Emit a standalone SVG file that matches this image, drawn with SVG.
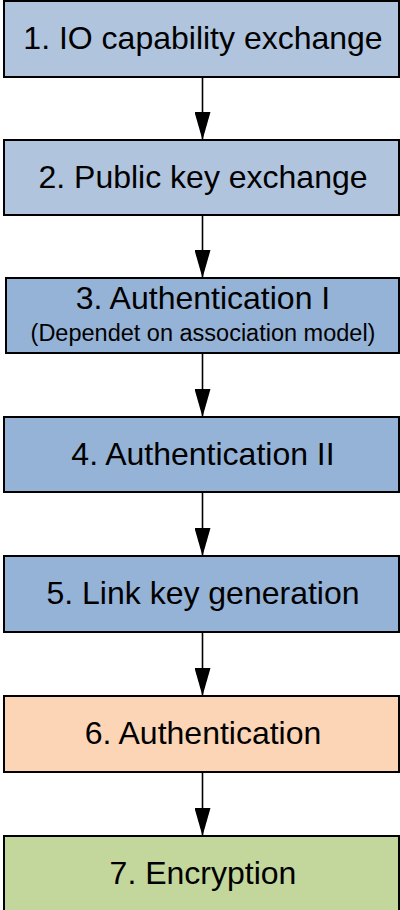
<svg xmlns="http://www.w3.org/2000/svg" width="400" height="910" viewBox="0 0 400 910">
  <style>
    .box { stroke: #000; stroke-width: 2; }
    .light { fill: #b0c4de; }
    .mid { fill: #95b3d7; }
    .peach { fill: #fbd5b5; }
    .green { fill: #c3d69b; }
    .lbl { font-family: "Liberation Sans", Arial, sans-serif; font-size: 32px; fill: #000; text-anchor: middle; }
    .sub { font-family: "Liberation Sans", Arial, sans-serif; font-size: 23.5px; fill: #000; text-anchor: middle; }
    .conn { stroke: #000; stroke-width: 1.6; fill: none; marker-end: url(#head); }
  </style>
  <defs>
    <!-- filled triangular head, 16 wide and 28 long, tip on the line end -->
    <marker id="head" viewBox="0 0 28 16" refX="28" refY="8" markerWidth="28" markerHeight="16" markerUnits="userSpaceOnUse" orient="auto">
      <path d="M0,0 L28,8 L0,16 Z" fill="#000"/>
    </marker>
  </defs>
  <rect width="400" height="910" fill="#fff"/>

  <g id="connectors">
    <line class="conn" x1="202.5" y1="77" x2="202.5" y2="140"/>
    <line class="conn" x1="202.5" y1="215" x2="202.5" y2="278"/>
    <line class="conn" x1="202.5" y1="353" x2="202.5" y2="417"/>
    <line class="conn" x1="202.5" y1="492" x2="202.5" y2="556"/>
    <line class="conn" x1="202.5" y1="632" x2="202.5" y2="696"/>
    <line class="conn" x1="202.5" y1="772" x2="202.5" y2="836"/>
  </g>

  <g id="step1">
    <rect class="box light" x="4" y="1" width="395" height="76"/>
    <text class="lbl" x="203" y="49">1. IO capability exchange</text>
  </g>
  <g id="step2">
    <rect class="box light" x="4" y="140" width="395" height="75"/>
    <text class="lbl" x="203" y="188">2. Public key exchange</text>
  </g>
  <g id="step3">
    <rect class="box mid" x="6" y="278" width="393" height="75"/>
    <text class="lbl" x="203" y="309">3. Authentication I</text>
    <text class="sub" x="203" y="341">(Dependet on association model)</text>
  </g>
  <g id="step4">
    <rect class="box mid" x="4" y="417" width="395" height="75"/>
    <text class="lbl" x="203" y="465">4. Authentication II</text>
  </g>
  <g id="step5">
    <rect class="box mid" x="4" y="556" width="395" height="76"/>
    <text class="lbl" x="203" y="604">5. Link key generation</text>
  </g>
  <g id="step6">
    <rect class="box peach" x="4" y="696" width="395" height="76"/>
    <text class="lbl" x="203" y="744">6. Authentication</text>
  </g>
  <g id="step7">
    <rect class="box green" x="4" y="836" width="395" height="80"/>
    <text class="lbl" x="203" y="884">7. Encryption</text>
  </g>
</svg>
